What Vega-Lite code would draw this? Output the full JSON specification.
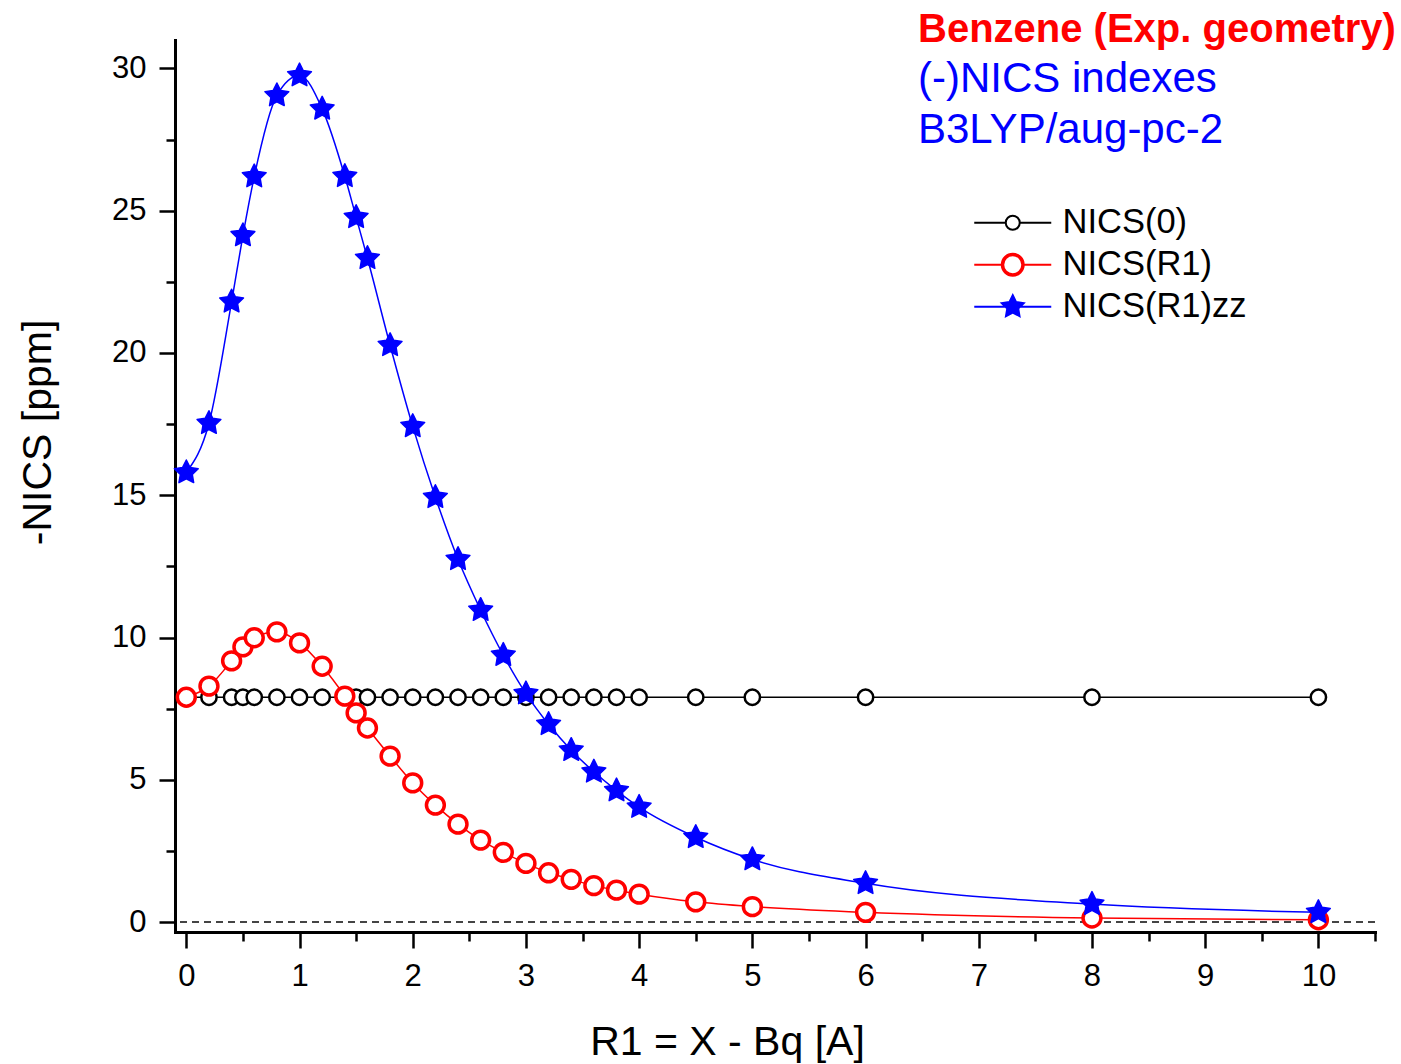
{
  "$schema": "https://vega.github.io/schema/vega-lite/v6.json",
  "width": 1200,
  "height": 892,
  "autosize": {"type": "none"},
  "padding": {"left": 175, "top": 40, "right": 26, "bottom": 132},
  "background": "white",
  "config": {
    "view": {"stroke": null},
    "axis": {
      "domainColor": "#000000", "domainWidth": 3, "domainCap": "square",
      "tickColor": "#000000", "tickWidth": 2.5, "grid": false,
      "labelFont": "Liberation Sans", "labelFontSize": 31, "labelColor": "#000000",
      "labelFlush": false,
      "titleFont": "Liberation Sans", "titleFontSize": 41, "titleFontWeight": "normal", "titleColor": "#000000"
    }
  },
  "title": {
    "text": "Benzene (Exp. geometry)",
    "subtitle": ["(-)NICS indexes", "B3LYP/aug-pc-2"],
    "anchor": "start", "frame": "group", "orient": "top",
    "dx": 743, "offset": -111,
    "font": "Liberation Sans", "fontSize": 40, "fontWeight": "bold", "color": "#ff0000",
    "subtitleFont": "Liberation Sans", "subtitleFontSize": 42, "subtitleColor": "#0000ff",
    "subtitlePadding": 9.5, "subtitleLineHeight": 51
  },
  "data": {"values": [
    {"s": "NICS(0)", "r": 0, "v": 7.9}, {"s": "NICS(0)", "r": 0.2, "v": 7.9}, {"s": "NICS(0)", "r": 0.4, "v": 7.9}, {"s": "NICS(0)", "r": 0.5, "v": 7.9},
    {"s": "NICS(0)", "r": 0.6, "v": 7.9}, {"s": "NICS(0)", "r": 0.8, "v": 7.9}, {"s": "NICS(0)", "r": 1.0, "v": 7.9}, {"s": "NICS(0)", "r": 1.2, "v": 7.9},
    {"s": "NICS(0)", "r": 1.4, "v": 7.9}, {"s": "NICS(0)", "r": 1.5, "v": 7.9}, {"s": "NICS(0)", "r": 1.6, "v": 7.9}, {"s": "NICS(0)", "r": 1.8, "v": 7.9},
    {"s": "NICS(0)", "r": 2.0, "v": 7.9}, {"s": "NICS(0)", "r": 2.2, "v": 7.9}, {"s": "NICS(0)", "r": 2.4, "v": 7.9}, {"s": "NICS(0)", "r": 2.6, "v": 7.9},
    {"s": "NICS(0)", "r": 2.8, "v": 7.9}, {"s": "NICS(0)", "r": 3.0, "v": 7.9}, {"s": "NICS(0)", "r": 3.2, "v": 7.9}, {"s": "NICS(0)", "r": 3.4, "v": 7.9},
    {"s": "NICS(0)", "r": 3.6, "v": 7.9}, {"s": "NICS(0)", "r": 3.8, "v": 7.9}, {"s": "NICS(0)", "r": 4.0, "v": 7.9}, {"s": "NICS(0)", "r": 4.5, "v": 7.9},
    {"s": "NICS(0)", "r": 5, "v": 7.9}, {"s": "NICS(0)", "r": 6, "v": 7.9}, {"s": "NICS(0)", "r": 8, "v": 7.9}, {"s": "NICS(0)", "r": 10, "v": 7.9},
    {"s": "NICS(R1)", "r": 0, "v": 7.9}, {"s": "NICS(R1)", "r": 0.2, "v": 8.29}, {"s": "NICS(R1)", "r": 0.4, "v": 9.18}, {"s": "NICS(R1)", "r": 0.5, "v": 9.67},
    {"s": "NICS(R1)", "r": 0.6, "v": 9.99}, {"s": "NICS(R1)", "r": 0.8, "v": 10.2}, {"s": "NICS(R1)", "r": 1.0, "v": 9.81}, {"s": "NICS(R1)", "r": 1.2, "v": 8.99},
    {"s": "NICS(R1)", "r": 1.4, "v": 7.94}, {"s": "NICS(R1)", "r": 1.5, "v": 7.35}, {"s": "NICS(R1)", "r": 1.6, "v": 6.82}, {"s": "NICS(R1)", "r": 1.8, "v": 5.83},
    {"s": "NICS(R1)", "r": 2.0, "v": 4.89}, {"s": "NICS(R1)", "r": 2.2, "v": 4.11}, {"s": "NICS(R1)", "r": 2.4, "v": 3.44}, {"s": "NICS(R1)", "r": 2.6, "v": 2.88},
    {"s": "NICS(R1)", "r": 2.8, "v": 2.45}, {"s": "NICS(R1)", "r": 3.0, "v": 2.06}, {"s": "NICS(R1)", "r": 3.2, "v": 1.73}, {"s": "NICS(R1)", "r": 3.4, "v": 1.5},
    {"s": "NICS(R1)", "r": 3.6, "v": 1.28}, {"s": "NICS(R1)", "r": 3.8, "v": 1.12}, {"s": "NICS(R1)", "r": 4.0, "v": 0.98}, {"s": "NICS(R1)", "r": 4.5, "v": 0.71},
    {"s": "NICS(R1)", "r": 5, "v": 0.54}, {"s": "NICS(R1)", "r": 6, "v": 0.34}, {"s": "NICS(R1)", "r": 8, "v": 0.14}, {"s": "NICS(R1)", "r": 10, "v": 0.08},
    {"s": "NICS(R1)zz", "r": 0, "v": 15.8}, {"s": "NICS(R1)zz", "r": 0.2, "v": 17.53}, {"s": "NICS(R1)zz", "r": 0.4, "v": 21.8}, {"s": "NICS(R1)zz", "r": 0.5, "v": 24.13},
    {"s": "NICS(R1)zz", "r": 0.6, "v": 26.2}, {"s": "NICS(R1)zz", "r": 0.8, "v": 29.05}, {"s": "NICS(R1)zz", "r": 1.0, "v": 29.75}, {"s": "NICS(R1)zz", "r": 1.2, "v": 28.58},
    {"s": "NICS(R1)zz", "r": 1.4, "v": 26.21}, {"s": "NICS(R1)zz", "r": 1.5, "v": 24.77}, {"s": "NICS(R1)zz", "r": 1.6, "v": 23.33}, {"s": "NICS(R1)zz", "r": 1.8, "v": 20.27},
    {"s": "NICS(R1)zz", "r": 2.0, "v": 17.42}, {"s": "NICS(R1)zz", "r": 2.2, "v": 14.93}, {"s": "NICS(R1)zz", "r": 2.4, "v": 12.75}, {"s": "NICS(R1)zz", "r": 2.6, "v": 10.96},
    {"s": "NICS(R1)zz", "r": 2.8, "v": 9.38}, {"s": "NICS(R1)zz", "r": 3.0, "v": 8.03}, {"s": "NICS(R1)zz", "r": 3.2, "v": 6.95}, {"s": "NICS(R1)zz", "r": 3.4, "v": 6.04},
    {"s": "NICS(R1)zz", "r": 3.6, "v": 5.28}, {"s": "NICS(R1)zz", "r": 3.8, "v": 4.62}, {"s": "NICS(R1)zz", "r": 4.0, "v": 4.04}, {"s": "NICS(R1)zz", "r": 4.5, "v": 2.98},
    {"s": "NICS(R1)zz", "r": 5, "v": 2.2}, {"s": "NICS(R1)zz", "r": 6, "v": 1.36}, {"s": "NICS(R1)zz", "r": 8, "v": 0.63}, {"s": "NICS(R1)zz", "r": 10, "v": 0.34}
  ]},
  "layer": [
    {
      "mark": {"type": "rule", "strokeDash": [7, 5], "color": "#444444", "strokeWidth": 2},
      "encoding": {"y": {"datum": 0, "type": "quantitative", "axis": null}}
    },
    {
      "mark": {"type": "line", "strokeWidth": 1.5, "interpolate": "monotone"},
      "encoding": {
        "x": {"field": "r", "type": "quantitative",
          "scale": {"domain": [-0.1, 10.5], "nice": false, "zero": false},
          "axis": {"orient": "bottom", "values": [0, 1, 2, 3, 4, 5, 6, 7, 8, 9, 10], "format": "d",
            "tickSize": 16, "labelPadding": 13, "title": "R1 = X - Bq [A]",
            "titleX": 552, "titleY": 122, "titleBaseline": "alphabetic", "titleAlign": "center"}},
        "y": {"field": "v", "type": "quantitative",
          "scale": {"domain": [-0.35, 31], "nice": false, "zero": false},
          "axis": {"orient": "left", "values": [0, 5, 10, 15, 20, 25, 30], "format": "d",
            "tickSize": 16, "labelPadding": 13, "title": "-NICS [ppm]",
            "titleX": -125, "titleY": 392, "titleBaseline": "alphabetic", "titleAlign": "center", "titleAngle": -90}},
        "color": {"field": "s", "type": "nominal",
          "scale": {"range": ["#000000", "#ff0000", "#0000ff"]},
          "legend": null}
      }
    },
    {
      "transform": [{"filter": "datum.s === 'NICS(0)'"}],
      "mark": {"type": "point", "shape": "circle", "size": 235, "stroke": "#000000", "fill": "#ffffff", "strokeWidth": 2.5, "opacity": 1},
      "encoding": {
        "x": {"field": "r", "type": "quantitative", "axis": null},
        "y": {"field": "v", "type": "quantitative", "axis": null}
      }
    },
    {
      "transform": [{"filter": "datum.s === 'NICS(R1)'"}],
      "mark": {"type": "point", "shape": "circle", "size": 320, "stroke": "#ff0000", "fill": "#ffffff", "strokeWidth": 3.5, "opacity": 1},
      "encoding": {
        "x": {"field": "r", "type": "quantitative", "axis": null},
        "y": {"field": "v", "type": "quantitative", "axis": null}
      }
    },
    {
      "transform": [{"filter": "datum.s === 'NICS(R1)zz'"}],
      "mark": {"type": "point", "shape": "M0,-1L0.294,-0.405L0.951,-0.309L0.476,0.155L0.588,0.809L0,0.5L-0.588,0.809L-0.476,0.155L-0.951,-0.309L-0.294,-0.405Z",
        "size": 625, "stroke": "#0000ff", "fill": "#0000ff", "strokeWidth": 1.5, "strokeJoin": "round", "opacity": 1},
      "encoding": {
        "x": {"field": "r", "type": "quantitative", "axis": null},
        "y": {"field": "v", "type": "quantitative", "axis": null}
      }
    },
    {
      "mark": {"type": "point", "opacity": 0},
      "encoding": {
        "x": {"field": "r", "type": "quantitative",
          "axis": {"orient": "bottom", "values": [0.5, 1.5, 2.5, 3.5, 4.5, 5.5, 6.5, 7.5, 8.5, 9.5, 10.5],
            "tickSize": 9, "labels": false, "domain": false, "title": null}},
        "y": {"field": "v", "type": "quantitative",
          "axis": {"orient": "left", "values": [2.5, 7.5, 12.5, 17.5, 22.5, 27.5],
            "tickSize": 9, "labels": false, "domain": false, "title": null}},
        "shape": {"field": "s", "type": "nominal",
          "scale": {"domain": ["NICS(0)", "NICS(R1)", "NICS(R1)zz"], "range": [
            "M-3.08,0L-0.56,0M0.56,0L3.08,0M0.56,0A0.56,0.56,0,1,1,-0.56,0A0.56,0.56,0,1,1,0.56,0",
            "M-3.08,0L-0.88,0M0.88,0L3.08,0M0.76,0A0.76,0.76,0,1,1,-0.76,0A0.76,0.76,0,1,1,0.76,0M0.88,0A0.88,0.88,0,1,1,-0.88,0A0.88,0.88,0,1,1,0.88,0",
            "M-3.08,0L3.08,0M0,-0.92L0.27,-0.372L0.875,-0.284L0.437,0.142L0.541,0.744L0,0.46L-0.541,0.744L-0.437,0.142L-0.875,-0.284L-0.27,-0.372Z"
          ]},
          "legend": {"orient": "none", "legendX": 820.5, "legendY": 165.5, "title": null, "symbolSize": 625, "symbolStrokeWidth": 2,
            "symbolOpacity": 1, "labelOffset": 32.5, "rowPadding": 7, "padding": 0, "labelLimit": 500,
            "labelFont": "Liberation Sans", "labelFontSize": 34.5, "labelColor": "#000000"}},
        "stroke": {"field": "s", "type": "nominal",
          "scale": {"domain": ["NICS(0)", "NICS(R1)", "NICS(R1)zz"], "range": ["#000000", "#ff0000", "#0000ff"]},
          "legend": {"orient": "none", "legendX": 820.5, "legendY": 165.5, "title": null, "symbolSize": 625, "symbolStrokeWidth": 2,
            "symbolOpacity": 1, "labelOffset": 32.5, "rowPadding": 7, "padding": 0, "labelLimit": 500,
            "labelFont": "Liberation Sans", "labelFontSize": 34.5, "labelColor": "#000000"}},
        "fill": {"field": "s", "type": "nominal",
          "scale": {"domain": ["NICS(0)", "NICS(R1)", "NICS(R1)zz"], "range": ["transparent", "transparent", "#0000ff"]},
          "legend": {"orient": "none", "legendX": 820.5, "legendY": 165.5, "title": null, "symbolSize": 625, "symbolStrokeWidth": 2,
            "symbolOpacity": 1, "labelOffset": 32.5, "rowPadding": 7, "padding": 0, "labelLimit": 500,
            "labelFont": "Liberation Sans", "labelFontSize": 34.5, "labelColor": "#000000"}}
      }
    }
  ],
  "resolve": {"axis": {"x": "independent", "y": "independent"}}
}
